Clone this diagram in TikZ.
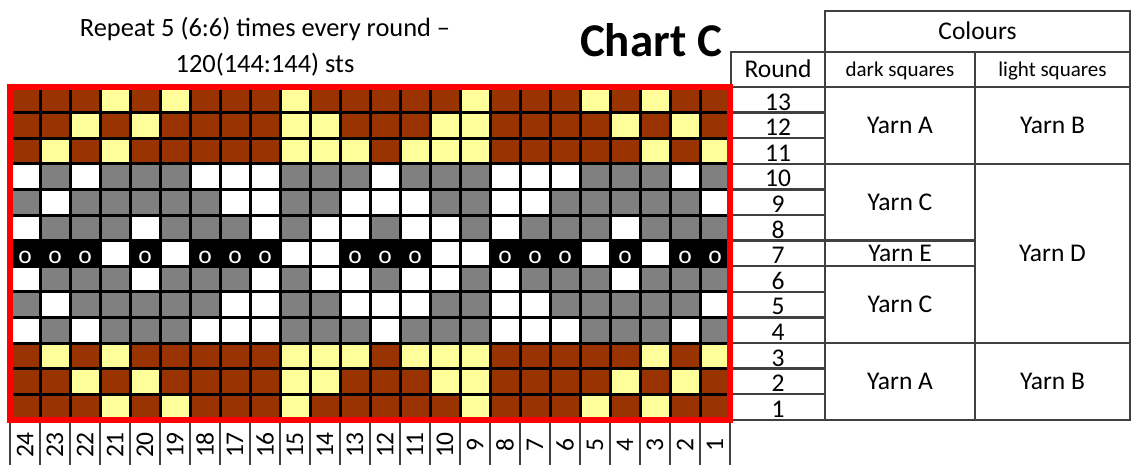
\documentclass[tikz,border=0pt]{standalone}
\usepackage{fontspec}
\setmainfont{Carlito}
\usepackage{tikz}
\usepackage{xcolor}
\definecolor{yarnA}{HTML}{993300}
\definecolor{yarnB}{HTML}{FFFF99}
\definecolor{yarnC}{HTML}{808080}
\definecolor{yarnD}{HTML}{FFFFFF}
\definecolor{yarnE}{HTML}{000000}
\definecolor{rulegray}{HTML}{404040}

\begin{document}
\begin{tikzpicture}[x=1pt,y=-1pt,font=\fontsize{25.5}{30}\selectfont,
  tab/.style={draw=rulegray,line width=2.5pt},
  cellrule/.style={black,line width=3pt},
  small/.style={font=\fontsize{21}{25}\selectfont},
  heading/.style={font=\fontsize{26.4}{30}\selectfont}]
\useasboundingbox (0,0) rectangle (1131,465);
\foreach \r/\row [count=\j from 0] in {
  13/{A,A,A,B,A,B,A,A,A,B,A,A,A,A,A,B,A,A,A,B,A,B,A,A},
  12/{A,A,B,A,B,A,A,A,A,B,B,A,A,A,B,B,A,A,A,A,B,A,B,A},
  11/{A,B,A,B,A,A,A,A,A,B,B,B,A,B,B,B,A,A,A,A,A,B,A,B},
  10/{D,C,D,C,C,C,D,D,D,C,C,C,D,C,C,C,D,D,D,C,C,C,D,C},
  9/{C,D,C,C,C,C,C,D,D,C,C,D,D,D,C,C,D,D,C,C,C,C,C,D},
  8/{D,C,C,C,D,C,C,C,D,C,D,D,C,D,D,C,D,C,C,C,D,C,C,C},
  7/{E,E,E,D,E,D,E,E,E,D,D,E,E,E,D,D,E,E,E,D,E,D,E,E},
  6/{D,C,C,C,D,C,C,C,D,C,D,D,C,D,D,C,D,C,C,C,D,C,C,C},
  5/{C,D,C,C,C,C,C,D,D,C,C,D,D,D,C,C,D,D,C,C,C,C,C,D},
  4/{D,C,D,C,C,C,D,D,D,C,C,C,D,C,C,C,D,D,D,C,C,C,D,C},
  3/{A,B,A,B,A,A,A,A,A,B,B,B,A,B,B,B,A,A,A,A,A,B,A,B},
  2/{A,A,B,A,B,A,A,A,A,B,B,A,A,A,B,B,A,A,A,A,B,A,B,A},
  1/{A,A,A,B,A,B,A,A,A,B,A,A,A,A,A,B,A,A,A,B,A,B,A,A}} {
  \foreach \c [count=\i from 0] in \row {
    \fill[yarn\c] (10+30*\i,87+25.6*\j) rectangle ++(30,25.6);
    \if\c E\node[white,anchor=base] (o\r-\i) at (25+30*\i,110.1+25.6*\j) {o};\fi
  }
  \node[anchor=base] (round\r) at (778,110.1+25.6*\j) {\r};
}
\foreach \i in {0,...,24} \draw[cellrule] (10+30*\i,87) -- ++(0,332.8);
\foreach \j in {0,...,13} \draw[cellrule] (10,87+25.6*\j) -- ++(720,0);

\foreach \i in {0,...,24} \draw[tab] (10+30*\i,419.8) -- (10+30*\i,465);
\foreach \c in {1,...,24} \node[rotate=90] (col\c) at (745-30*\c,445) {\c};

\draw[tab] (825,11) rectangle (1130,52);
\draw[tab] (731,52) rectangle (1130,419.8);
\draw[tab] (825,52) -- (825,419.8) (975,52) -- (975,419.8);
\draw[tab] (731,87) -- (1130,87);
\foreach \j in {1,...,12} \draw[tab] (731,87+25.6*\j) -- (825,87+25.6*\j);
\foreach \j in {3,6,7,10} \draw[tab] (825,87+25.6*\j) -- (975,87+25.6*\j);
\foreach \j in {3,10} \draw[tab] (975,87+25.6*\j) -- (1130,87+25.6*\j);

\draw[red,line width=6pt] (10,87) rectangle (730,419.8);

\node[anchor=base,heading] (title) at (265,36.5) {Repeat 5 (6:6) times every round --};
\node[anchor=base,heading] (sts) at (265,72.5) {120(144:144) sts};
\node[anchor=base,font=\fontsize{47}{50}\selectfont\bfseries] (chart) at (651,56.5) {Chart C};
\node[anchor=base] (colours) at (977.5,39.5) {Colours};
\node[anchor=base] (round) at (778,78) {Round};
\node[anchor=base,small] (dark) at (900,77) {dark squares};
\node[anchor=base,small] (light) at (1052.5,77) {light squares};
\node (yarnA1) at (900,125.4) {Yarn A};
\node (yarnC1) at (900,202.2) {Yarn C};
\node (yarnE) at (900,253.4) {Yarn E};
\node (yarnC2) at (900,304.6) {Yarn C};
\node (yarnA2) at (900,381.4) {Yarn A};
\node (yarnB1) at (1052.5,125.4) {Yarn B};
\node (yarnD) at (1052.5,253.4) {Yarn D};
\node (yarnB2) at (1052.5,381.4) {Yarn B};
\end{tikzpicture}
\end{document}
